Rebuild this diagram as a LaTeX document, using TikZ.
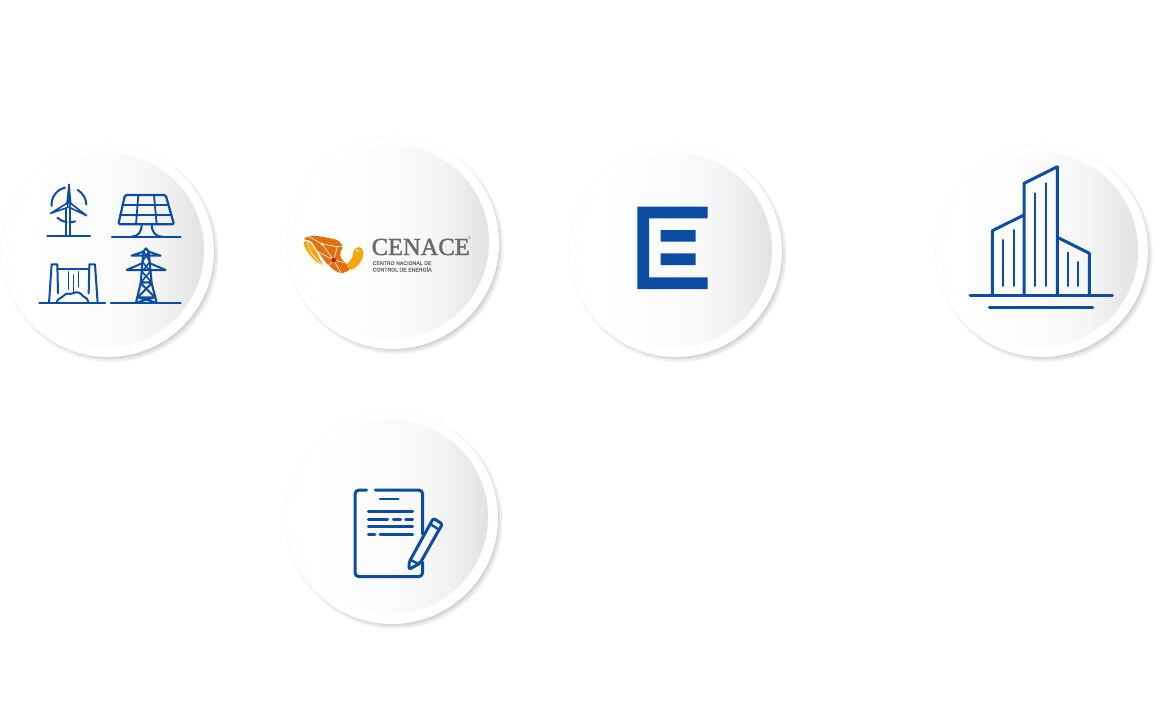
\documentclass[tikz,border=0pt]{standalone}
\usepackage{fontspec}
\setmainfont{Liberation Sans}
\newfontfamily\cenacefont[FakeBold=1.6]{Liberation Serif}
\newfontfamily\cenacesmall[FakeBold=0.4]{Liberation Sans}
\definecolor{iconblue}{HTML}{0A4DA2}
\definecolor{logogrey}{HTML}{67696A}
\definecolor{logodark}{HTML}{E2700F}
\definecolor{logoyellow}{HTML}{F4A60C}
\definecolor{logored}{HTML}{C4161C}
\pgfdeclarehorizontalshading{badgeshade}{100bp}{color(0bp)=(white); color(30bp)=(white); color(50bp)=(white!98.5!black); color(62bp)=(white!96!black); color(75bp)=(white!88.5!black); color(100bp)=(white!88.5!black)}
\tikzset{
  zm/.style 2 args={shift={(#1,#2)},x=0.33333pt,y=-0.33333pt},
  ic/.style={draw=iconblue,line width=#1,line cap=round,line join=round},
  ic/.default=1.5pt,
  badge/.pic={
    \fill[black,opacity=0.006] (0,0) circle[radius=108];
    \fill[black,opacity=0.006] (0,0) circle[radius=107];
    \foreach \r in {108,107,106,105,104,103,102,101}
      \fill[black,opacity=0.028] (3,3.5) circle[radius=\r];
    \fill[white] (0,0) circle[radius=106];
    \fill[black,opacity=0.012] (-1,-1) circle[radius=98];
    \shade[shading=badgeshade,shading angle=0]
      (-1,-1) circle[radius=97];
  }
}
\begin{document}
\begin{tikzpicture}[x=1pt,y=-1pt]
\useasboundingbox (0,0) rectangle (1157,720);
\fill[white] (0,0) rectangle (1157,720);

\pic at (108,251) {badge};
\pic at (393,243) {badge};
\pic at (676,251) {badge};
\pic at (1042,251) {badge};
\pic at (392,518) {badge};

% wind turbine
\begin{scope}[zm={30}{175}]
  \draw[ic=2.2pt] (52,184) -- (180,184);
  \draw[ic=1.8pt] (108,100) -- (108,184) (120,100) -- (120,184);
  \draw[ic=2pt] (105,38) arc (-103:-185:52);
  \draw[ic=2pt] (143,45) arc (-60:-2:52);
  \draw[ic=2pt] (82,128) arc (133:98:52);
  \draw[ic=2pt] (122,142) arc (85:70:52);
  \draw[ic=1.6pt,fill=iconblue] (117,28) -- (122,85) -- (111,85) -- cycle;
  \draw[ic=1.6pt] (62,115) -- (112,84) -- (114,97) -- cycle;
  \draw[ic=1.6pt] (170,122) -- (122,85) -- (118,97) -- cycle;
\end{scope}

% solar panel and dam
\begin{scope}[zm={0}{130}]
  \draw[ic=2.2pt,rounded corners=1.5pt] (375,195) -- (497,195) -- (522,283) -- (355,283) -- cycle;
  \draw[ic=1.8pt] (367,225) -- (505,225) (360,255) -- (514,255);
  \draw[ic=1.8pt] (415,195) -- (408,283) (462,195) -- (470,283);
  \draw[ic=2pt] (425,283) .. controls (425,305) and (415,320) .. (395,320);
  \draw[ic=2pt] (455,283) .. controls (455,305) and (465,320) .. (488,320);
  \draw[ic=2.2pt] (336,320) -- (542,320);
  \draw[ic=2.2pt] (118,519) -- (315,519);
  \draw[ic=2pt] (147,519) -- (155,403) -- (172,403) -- (174,490);
  \draw[ic=2pt] (293,519) -- (285,403) -- (268,403) -- (266,490);
  \draw[ic=2pt] (172,418) -- (268,418);
  \draw[ic=2pt] (170,519) .. controls (170,505) and (185,505) .. (190,498)
    .. controls (200,485) and (210,495) .. (218,490)
    .. controls (230,482) and (245,490) .. (248,498)
    .. controls (258,503) and (265,508) .. (265,519);
  \draw[ic=1.5pt] (205,425) -- (205,478) (220,435) -- (220,485) (235,425) -- (235,470);
\end{scope}

% pylon
\begin{scope}[zm={100}{240}]
  \draw[ic=2.2pt] (33,188) -- (242,188);
  \draw[ic=2.1pt] (108,188) -- (122,130) -- (130,35) -- (138,25) -- (146,35) -- (155,130) -- (170,188);
  \draw[ic=2pt] (95,47) -- (130,35) (182,47) -- (146,35) (95,47) -- (182,47);
  \draw[ic=2pt] (80,90) -- (126,70) (197,90) -- (150,70) (80,90) -- (197,90);
  \draw[ic=1.6pt] (131,35) -- (150,65) -- (126,95) -- (153,125) -- (122,130);
  \draw[ic=1.6pt] (146,35) -- (127,65) -- (151,95) -- (124,125) -- (155,130);
  \draw[ic=2pt] (122,130) -- (165,172) -- (108,188) (155,130) -- (113,172) -- (170,188) (113,172) -- (165,172);
\end{scope}

% CENACE logo
\begin{scope}[zm={298}{230}]
  \fill[logoyellow,rounded corners=2pt] (15,33) -- (36,36) -- (55,66) -- (76,106) -- (60,100) -- (35,76) -- (20,52) -- cycle;
  \fill[logodark,rounded corners=2pt] (15,27) -- (40,16) -- (72,20) -- (120,30) -- (136,50) -- (125,70) -- (131,90) -- (148,100)
    -- (156,120) -- (130,131) -- (110,122) -- (85,100) -- (60,65) -- (40,33) -- cycle;
  \fill[logoyellow,rounded corners=4pt] (143,100) -- (164,88) -- (165,60) -- (184,47) -- (198,62) -- (192,92) -- (170,117) -- (152,121) -- cycle;
  \draw[white,line width=0.6pt,line join=round]
    (30,18) -- (72,42) -- (107,90) (72,42) -- (118,50) -- (107,90) -- (130,131)
    (107,90) -- (82,118) (107,90) -- (148,100) (107,90) -- (60,65) (118,50) -- (135,50)
    (28,38) -- (40,70) -- (70,104);
  \fill[white] (72,42) circle[radius=5];
  \fill[white] (178,62) circle[radius=4];
  \fill[logored] (107,90) circle[radius=7];
\end{scope}
\node[anchor=base west,inner sep=0pt,text=logogrey,font=\cenacefont\fontsize{24.5}{24.5}\selectfont] (cenace) at (371.5,255) {CENACE};
\node[anchor=center,inner sep=0pt,text=logogrey,font=\fontsize{4}{4}\selectfont] (reg) at (469.5,238.5) {®};
\node[anchor=base west,inner sep=0pt,text=logogrey,font=\cenacesmall\fontsize{5.2}{5.2}\selectfont] (cenacea) at (372.5,265) {CENTRO NACIONAL DE};
\node[anchor=base west,inner sep=0pt,text=logogrey,font=\cenacesmall\fontsize{5.2}{5.2}\selectfont] (cenaceb) at (372.5,271.5) {CONTROL DE ENERGÍA};

% E logo
\fill[iconblue] (637.3,206.7) -- (707.7,206.7) -- (707.7,218.3) -- (649,218.3) -- (649,277.3) -- (707.7,277.3) -- (707.7,289) -- (637.3,289) -- cycle;
\fill[iconblue] (660.7,230) rectangle (695.7,241.7) (660.7,253.3) rectangle (695.7,265);

% building
\begin{scope}[zm={950}{150}]
  \draw[ic=3pt] (60,435) -- (487,435);
  \draw[ic=3.2pt] (118,472) -- (428,472);
  \draw[ic=3pt] (127,435) -- (127,242) -- (222,195);
  \draw[ic=3pt] (222,435) -- (222,100) -- (322,50) -- (322,435);
  \draw[ic=3pt] (322,262) -- (418,310) -- (418,435);
  \draw[ic=2pt] (160,270) -- (160,408) (191,240) -- (191,408) (256,130) -- (256,408)
    (289,100) -- (289,408) (353,308) -- (353,408) (383,336) -- (383,408);
\end{scope}

% document and pen
\begin{scope}[zm={340}{475}]
  \draw[ic=3pt,rounded corners=4pt] (80,45) -- (45,45) -- (45,305) -- (248,305) -- (248,262);
  \draw[ic=3pt,rounded corners=4pt] (248,178) -- (248,45) -- (106,45);
  \draw[ic=2.8pt] (120,72) -- (175,72) (85,110) -- (218,110) (85,133) -- (143,133)
    (160,133) -- (182,133) (197,133) -- (218,133) (85,155) -- (218,155)
    (85,178) -- (105,178) (120,178) -- (218,178);
  \draw[ic=3pt,rounded corners=2pt] (207,283) -- (207,262) -- (280,130) -- (307,147) -- (240,265) -- cycle;
  \draw[ic=2.4pt] (272,148) -- (297,164);
  \draw[ic=2.4pt] (210,254) -- (238,268);
\end{scope}
\end{tikzpicture}
\end{document}
